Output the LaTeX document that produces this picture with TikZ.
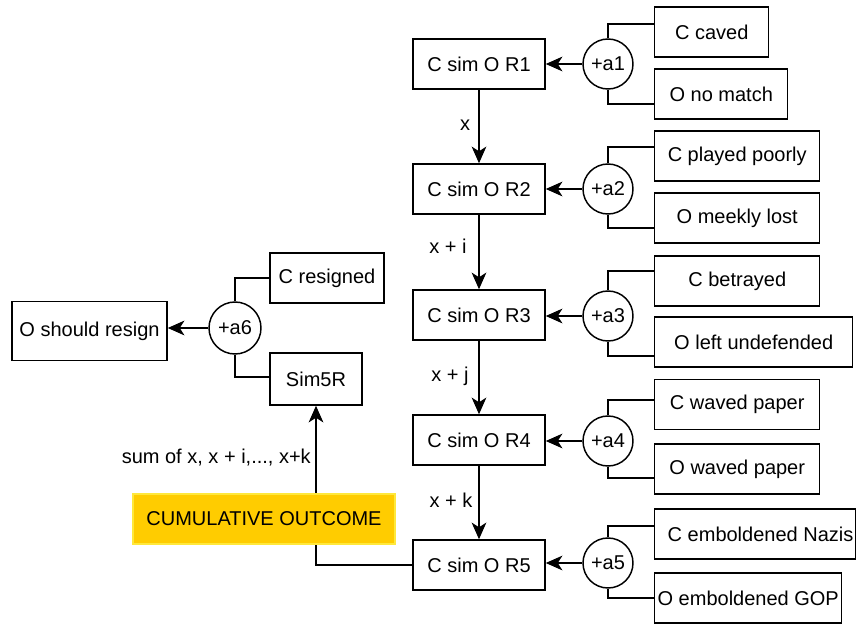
\documentclass[tikz,border=0pt]{standalone}
\usepackage{fontspec}
\setmainfont{Liberation Sans}
\usetikzlibrary{calc,arrows.meta}
\definecolor{gold}{RGB}{255,204,0}
\definecolor{goldline}{RGB}{255,232,60}
\tikzset{
  lw/.style={line width=1.1pt},
  bx/.style={draw, lw, rectangle, inner sep=0pt, minimum height=37.5pt, minimum width=#1*0.75pt, font=\fontsize{15pt}{18pt}\selectfont},
  circ/.style={draw, lw, circle, inner sep=0pt, minimum size=37.5pt, font=\fontsize{15pt}{18pt}\selectfont},
  lbl/.style={inner sep=0pt, font=\fontsize{15pt}{18pt}\selectfont},
  arr/.style={lw, -{Stealth[length=12.5pt,width=11pt,inset=3.5pt]}},
  con/.style={lw}
}
\begin{document}
\begin{tikzpicture}[x=0.75pt,y=-0.75pt]
\useasboundingbox (0,0) rectangle (856,624);
% main chain
\node[bx=132] (r1) at (479,64) {C sim O R1};
\node[bx=132] (r2) at (479,189) {C sim O R2};
\node[bx=132] (r3) at (479,315) {C sim O R3};
\node[bx=132] (r4) at (479,440) {C sim O R4};
\node[bx=132] (r5) at (479,565) {C sim O R5};
% circles
\node[circ] (a1) at (608,64) {+a1};
\node[circ] (a2) at (608,189) {+a2};
\node[circ] (a3) at (608,316) {+a3};
\node[circ] (a4) at (608,441) {+a4};
\node[circ] (a5) at (608,563) {+a5};
% right boxes
\node[bx=114, anchor=west] (cc) at (654,32) {C caved};
\node[bx=133, anchor=west] (om) at (654,94) {O no match};
\node[bx=165, anchor=west] (cp) at (654,156) {C played poorly};
\node[bx=165, anchor=west] (ol) at (654,218) {O meekly lost};
\node[bx=165, anchor=west] (cb) at (654,281) {C betrayed};
\node[bx=198, anchor=west] (ou) at (654,342) {O left undefended};
\node[bx=165, anchor=west] (cw) at (654,404.5) {C waved paper};
\node[bx=165, anchor=west] (ow) at (654,469) {O waved paper};
\node[bx=201, anchor=west] (cn) at (654,534) {\hspace*{8pt}C emboldened Nazis};
\node[bx=187, anchor=west] (og) at (654,598) {O emboldened GOP};
% left group
\node[bx=155, minimum height=44pt] (osr) at (89.5,331) {O should resign};
\node[circ, minimum size=39pt] (a6) at (235,328) {+a6};
\node[bx=114] (cr) at (327,278) {C resigned};
\node[bx=92, minimum height=39pt] (s5) at (316,379) {Sim5R};
% connectors right groups
\draw[con] (a1.north) |- ($(cc.west)+(0,-8)$);
\draw[con] (a1.south) |- ($(om.west)+(0,10)$);
\draw[con] (a2.north) |- ($(cp.west)+(0,-9)$);
\draw[con] (a2.south) |- ($(ol.west)+(0,10)$);
\draw[con] (a3.north) |- ($(cb.west)+(0,-10)$);
\draw[con] (a3.south) |- ($(ou.west)+(0,14)$);
\draw[con] (a4.north) |- ($(cw.west)+(0,-4.5)$);
\draw[con] (a4.south) |- ($(ow.west)+(0,9)$);
\draw[con] (a5.north) |- ($(cn.west)+(0,-8)$);
\draw[con] (a5.south) |- (og.west);
\draw[arr] (a1.west) -- (a1.west -| r1.east);
\draw[arr] (a2.west) -- (a2.west -| r2.east);
\draw[arr] (a3.west) -- (a3.west -| r3.east);
\draw[arr] (a4.west) -- (a4.west -| r4.east);
\draw[arr] (a5.west) -- (a5.west -| r5.east);
% vertical chain
\draw[arr] (r1.south) -- (r2.north);
\draw[arr] (r2.south) -- (r3.north);
\draw[arr] (r3.south) -- (r4.north);
\draw[arr] (r4.south) -- (r5.north);
\node[lbl] (lx) at (465,125) {x};
\node[lbl] (lxi) at (448,246) {x + i};
\node[lbl] (lxj) at (450,376) {x + j};
\node[lbl] (lxk) at (451,500) {x + k};
% left group connectors
\draw[con] (a6.north) |- (cr.west);
\draw[con] (a6.south) |- ($(s5.west)+(0,-2)$);
\draw[arr] (a6.west) -- (a6.west -| osr.east);
% cumulative
\draw[arr] (r5.west) -| (s5.south);
\node[draw=goldline, fill=gold, line width=1pt, minimum width=196.5pt, minimum height=37.5pt, inner sep=0pt, font=\fontsize{15pt}{18pt}\selectfont] (cum) at (264,519) {CUMULATIVE OUTCOME};
\node[lbl, anchor=east] (sum) at (311,458) {sum of x, x + i,..., x+k};
\end{tikzpicture}
\end{document}
